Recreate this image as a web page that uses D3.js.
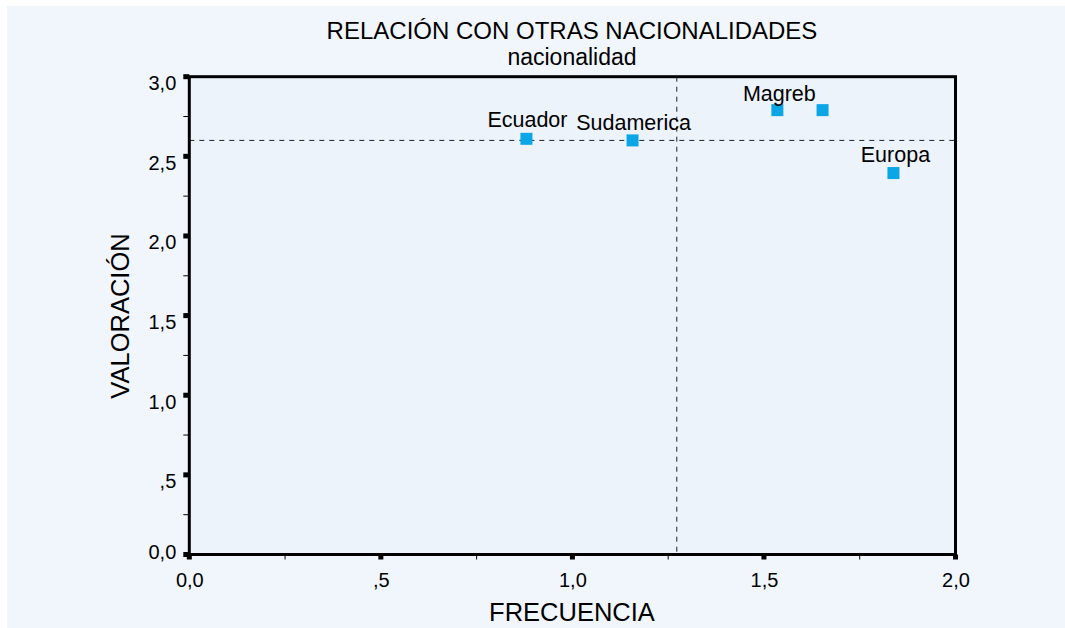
<!DOCTYPE html>
<html>
<head>
<meta charset="utf-8">
<script src="https://cdn.jsdelivr.net/npm/d3@7"></script>
<style>
  html, body { margin: 0; padding: 0; background: #ffffff; }
  svg { display: block; }
  text { font-family: "Liberation Sans", Arial, sans-serif; fill: #000; }
</style>
</head>
<body>
<svg id="chart" width="1065" height="628"></svg>
<script>
// ---- data ----
const labels = ["Ecuador", "Sudamerica", "Magreb", "", "Europa"];
const frecuencia = [0.88, 1.157, 1.535, 1.653, 1.838];
const valoracion = [2.61, 2.60, 2.79, 2.79, 2.395];
const refX = 1.2725;
const refY = 2.60;
const xTicks = [0, 0.5, 1.0, 1.5, 2.0];
const yTicks = [0, 0.5, 1.0, 1.5, 2.0, 2.5, 3.0];
const minorX = [0.25, 0.75, 1.25, 1.75];
const minorY = [0.25, 0.75, 1.25, 1.75, 2.25, 2.75];
const tickText = v => v === 0 ? "0,0" : (v < 1 ? "," + String(v).split(".")[1] : d3.format(".1f")(v).replace(".", ","));
const title = "RELACIÓN CON OTRAS NACIONALIDADES";
const subtitle = "nacionalidad";
const xTitle = "FRECUENCIA";
const yTitle = "VALORACIÓN";
// label offsets (px) relative to each point
const labelDx = [1, 1, 2, 0, 2];
const labelDy = [-12, -10, -9, 0, -11];

// ---- layout ----
const svg = d3.select("#chart");
svg.append("rect").attr("x", 7).attr("y", 6).attr("width", 1058).attr("height", 622).attr("fill", "#f1f6fd");

const L = 189.3, R = 955.5, T = 76.7, B = 554.5;
const x = d3.scaleLinear().domain([0, 2]).range([L, R]);
const y = d3.scaleLinear().domain([0, 3]).range([B, T]);

svg.append("rect").attr("x", L).attr("y", T).attr("width", R - L).attr("height", B - T).attr("fill", "#edf3fb");

// titles
svg.append("text").attr("x", 572).attr("y", 39).attr("text-anchor", "middle").attr("font-size", 24).text(title);
svg.append("text").attr("x", 572).attr("y", 65).attr("text-anchor", "middle").attr("font-size", 23).text(subtitle);
svg.append("text").attr("x", 572).attr("y", 621).attr("text-anchor", "middle").attr("font-size", 25.5).text(xTitle);
svg.append("text").attr("transform", `translate(129,316) rotate(-90)`).attr("text-anchor", "middle").attr("font-size", 25.5).text(yTitle);

// reference lines
svg.append("line").attr("x1", x(refX)).attr("x2", x(refX)).attr("y1", T).attr("y2", B)
  .attr("stroke", "#222").attr("stroke-width", 1).attr("stroke-dasharray", "5,5");
svg.append("line").attr("x1", L).attr("x2", R).attr("y1", y(refY)).attr("y2", y(refY))
  .attr("stroke", "#222").attr("stroke-width", 1).attr("stroke-dasharray", "5,5");

// axes
const xAxis = d3.axisBottom(x).tickValues(xTicks).tickFormat(tickText).tickSize(0).tickPadding(18);
const gx = svg.append("g").attr("transform", `translate(0,${B})`).call(xAxis);
gx.select(".domain").remove();
gx.selectAll("text").attr("font-size", 20).attr("font-family", "Liberation Sans, Arial, sans-serif");

const yAxis = d3.axisLeft(y).tickValues(yTicks).tickFormat(tickText).tickSize(0).tickPadding(13);
const gy = svg.append("g").attr("transform", `translate(${L},0)`).call(yAxis);
gy.select(".domain").remove();
gy.selectAll("text").attr("font-size", 20).attr("font-family", "Liberation Sans, Arial, sans-serif")
  .attr("dy", d => d === 0 ? "0.18em" : "0.64em");

// minor ticks
svg.selectAll(".mx").data(minorX).enter().append("line")
  .attr("x1", d => x(d)).attr("x2", d => x(d)).attr("y1", B).attr("y2", B + 5)
  .attr("stroke", "#000").attr("stroke-width", 1);
svg.selectAll(".my").data(minorY).enter().append("line")
  .attr("x1", L - 6).attr("x2", L).attr("y1", d => y(d)).attr("y2", d => y(d))
  .attr("stroke", "#000").attr("stroke-width", 1);

// major tick squares
svg.selectAll(".Mx").data(xTicks).enter().append("rect")
  .attr("x", d => x(d) - 2.5).attr("y", B).attr("width", 5).attr("height", 5).attr("fill", "#000");
svg.selectAll(".My").data(yTicks).enter().append("rect")
  .attr("x", L - 6).attr("y", d => y(d) - 2.5).attr("width", 6).attr("height", 5).attr("fill", "#000");

// frame
svg.append("rect").attr("x", L).attr("y", T).attr("width", R - L).attr("height", B - T)
  .attr("fill", "none").attr("stroke", "#000").attr("stroke-width", 3);

// points
const pts = frecuencia.map((f, i) => ({ f, v: valoracion[i], label: labels[i], dx: labelDx[i], dy: labelDy[i] }));
svg.selectAll(".pt").data(pts).enter().append("rect")
  .attr("x", d => x(d.f) - 6).attr("y", d => y(d.v) - 6).attr("width", 12).attr("height", 12)
  .attr("fill", "#0aa6e6");
svg.selectAll(".lbl").data(pts).enter().append("text")
  .attr("x", d => x(d.f) + d.dx).attr("y", d => y(d.v) + d.dy)
  .attr("text-anchor", "middle").attr("font-size", 21.5).text(d => d.label);
</script>
</body>
</html>
